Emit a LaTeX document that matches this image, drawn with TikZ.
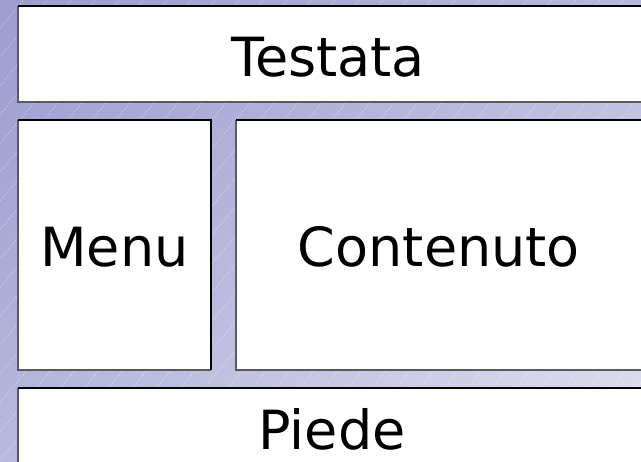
\documentclass[tikz,border=0pt]{standalone}
\usepackage{fontspec}
\setmainfont{DejaVu Sans}
\usetikzlibrary{shadings}
\definecolor{bgdark}{HTML}{9C9CCF}
\definecolor{bgmid}{HTML}{B8B8DD}
\definecolor{bglight}{HTML}{E2E2F1}
\definecolor{shadowgray}{HTML}{5A5A5A}
\begin{document}
\begin{tikzpicture}[x=1pt,y=-1pt,
  panel/.style={rectangle, fill=white, inner sep=0pt},
  lbl/.style={inner sep=0pt, anchor=base, font=\fontsize{54}{60}\selectfont},
  edgedark/.style={draw=black, line width=2pt},
  edgegray/.style={draw=shadowgray, line width=2pt},
  hatch/.style={draw=white, line width=0.6pt, opacity=0.4, dash pattern=on 2pt off 1.5pt}]
\useasboundingbox (0,0) rectangle (641,462);
\begin{scope}
\clip (0,0) rectangle (641,462);
\shade[upper left=bgdark, upper right=bgmid, lower left=bgmid, lower right=bglight] (0,0) rectangle (641,462);
\foreach \i in {-560,-536,...,660} {
  \draw[hatch] (\i,470) -- (\i+400,-10);
}
\node[panel, minimum width=627pt, minimum height=96pt] (t) at (331.5,54) {};
\node[panel, minimum width=193pt, minimum height=250pt] (m) at (114.5,245) {};
\node[panel, minimum width=409pt, minimum height=250pt] (c) at (440.5,245) {};
\node[panel, minimum width=627pt, minimum height=92pt] (p) at (331.5,434) {};
\foreach \n in {t,m,c,p} {
  \draw[edgegray] (\n.north west) -- (\n.south west) -- (\n.south east);
  \draw[edgedark] (\n.north west) -- (\n.north east) -- (\n.south east);
}
\node[lbl] (tl) at (328,77) {Testata};
\node[lbl] (ml) at (114.5,267) {Menu};
\node[lbl] (cl) at (439,267) {Contenuto};
\node[lbl] (pl) at (332,450) {Piede};
\end{scope}
\end{tikzpicture}
\end{document}
